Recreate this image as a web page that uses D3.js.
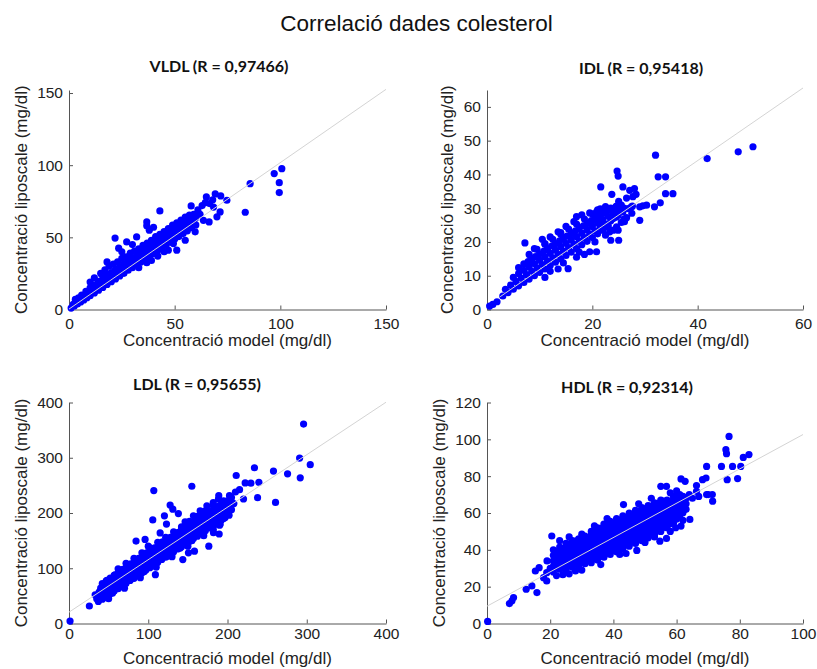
<!DOCTYPE html>
<html>
<head>
<meta charset="utf-8">
<script src="https://cdn.jsdelivr.net/npm/d3@7"></script>
<style>
  body { margin: 0; background: #fff; }
  svg { display: block; }
</style>
</head>
<body>
<svg id="chart" width="817" height="669"></svg>
<script>
// ---- text ----
const chartTitle = "Correlació dades colesterol";
const xAxisLabel = "Concentració model (mg/dl)";
const yAxisLabel = "Concentració liposcale (mg/dl)";
const panelNames = ["VLDL (R = 0,97466)", "IDL (R = 0,95418)", "LDL (R = 0,95655)", "HDL (R = 0,92314)"];

// ---- VLDL: [model, liposcale] ----
const vldlPoints = [
  [1,1],[2.5,2.5],[4,3.8],[5.5,5.2],[7,6.6],[8.5,8.2],[10,9.6],[12,11.5],[14,13.4],[16,15.3],[18,17.4],[20,19.3],
  [22,21.2],[24,23.2],[26,25.1],[28,27.2],[30,29],[32,31],[34,33],[36,34.8],[38,37],[40,38.8],[42,40.8],[44,42.7],
  [46,44.8],[48,46.6],[50,48.8],[52,50.5],[54,52.6],[56,54.5],[58,56.8],[60,58.6],
  [2,3.5],[3.5,5.5],[3,7],[4.5,8],[5,7],[6.5,8.8],[8,10.5],[9.5,12],[11,13.6],[13,15.5],[15,17.6],[17,19.5],[19,21.6],
  [21,23.4],[23,25.6],[25,27.5],[27,29.6],[29,31.4],[31,33.5],[33,35.6],[35,37.4],[37,39.5],[39,41.6],[41,43.4],
  [43,45.5],[45,47.4],[47,49.6],[49,51.5],[51,53.4],[53,55.6],[55,57.5],[57,59.4],[59,61.5],
  [6,10],[8,12.5],[10,15],[12,17],[14,19.5],[16,21.5],[18,23.8],[20,25.6],[22,27.8],[24,29.5],[26,31.8],[28,33.6],
  [30,35.8],[32,37.5],[34,39.8],[36,41.5],[38,43.6],[40,45.8],[42,47.4],[44,49.6],[46,51.5],[48,53.8],[50,55.4],
  [52,57.6],[54,59.4],[56,61.6],[58,63],
  [15,25],[17,27.5],[19,30],[21,31.5],[23,33],[25,35.5],[27,36.5],[29,39],[31,40.5],[33,42],[35,44.5],[37,46],
  [39,48],[41,50.5],[43,52],[45,54],[47,56],[49,58.5],[51,60],[53,62],[55,64],[57,65.5],
  [21.8,49.5],[23.5,42.5],[27.3,46.8],[32,50.3],[36.8,60.7],[36.8,58],[43,68.3],[38,55],[40,57],[30,45],[25,40],
  [18,33],[12,22],[10,19],
  [57.8,71.8],[59,66],[61,69],[63,72],[64.5,74],[65,78],[66.5,73.4],[68,76],[69.2,80.1],[71.8,78.7],[74.7,75.7],
  [71.5,67.6],[68.4,71],[70,64.2],[66.3,60.7],[63.6,61.8],[62,66],[60,63.5],
  [47,41.1],[51,41.1],[55,48],[59.7,53.8],[49.4,45.7],[36.8,32.4],[39,34],[42,37],[33,29],[45,40],
  [100.7,97.6],[97.1,94.2],[99.5,87.9],[99.5,81],[85.7,87.2],[83.4,67.4]
];

// ---- IDL ----
const idlPoints = [
  [0.5,1],[1.1,1.5],[1.9,2.3],
  [3,4],[4,5],[5,6],[6,7],[7,8],[8,9],[9,10],[10,11],[11,12],[12,13],[13,14],[14,15],[15,16],[16,17],[17,18],
  [18,19.2],[19,20.2],[20,21.3],[21,22.4],[22,23.5],[23,24.4],
  [3.5,6],[4.5,7.2],[5.5,8.3],[6.5,9.3],[7.5,10.3],[8.5,11.3],[9.5,12.3],[10.5,13.3],[11.5,14.3],[12.5,15.3],
  [13.5,16.3],[14.5,17.3],[15.5,18.3],[16.5,19.3],[17.5,20.3],[18.5,21.3],[19.5,22.3],[20.5,23.3],[21.5,24.3],
  [22.5,25.3],[23.5,26.3],[24.5,27.3],
  [5,9.5],[6,10.6],[7,11.6],[8,12.6],[9,13.6],[10,14.6],[11,15.6],[12,16.6],[13,17.6],[14,18.6],[15,19.6],
  [16,20.6],[17,21.6],[18,22.6],[19,23.6],[20,24.6],[21,25.6],[22,26.6],[23,27.6],[24,28.6],[25,29.5],
  [7,13.5],[8.5,15],[10,16.5],[11.5,18],[13,19.5],[14.5,21],[16,22.5],[17.5,24],[19,25.5],[20.5,27],[22,28.5],[23.5,30],
  [6,12.4],[7.8,14.2],[9.2,15.7],[10.8,17.3],[12.3,18.8],[13.8,20.3],[15.2,21.7],[16.8,23.3],[18.3,24.8],
  [19.8,26.3],[21.3,27.8],[22.8,29.3],[24.5,30.5],
  [8,16.3],[9.5,17.8],[11,19.3],[12.5,20.8],[14,22.3],[15.5,23.8],[17,25.3],[18.5,26.8],[20,28.3],[21.5,29.8],
  [9,18],[10.5,20.8],[12,21.5],[13.5,23],[15,24.6],[16.5,26],[18,28],[19.5,28.6],[21,29.5],[11,19.5],[14,22.8],
  [17,27.5],[7.2,19.7],[21.6,36.3],[24.7,41],[24.9,39.5],[23.7,34.1],[22.5,30.5],
  [20.8,28.9],[21.7,28.4],[22.7,29.4],[23.6,29.9],[24.6,30.6],[25.5,30.9],[20.8,26.4],[22,25.7],[23,25],
  [23.9,26.9],[24.9,27.9],[25.8,28.9],[26.8,29.9],[27.6,30.6],[29,30.4],[29.6,30.7],[26.1,26],[24.6,24.5],
  [23.3,23],[25,20.5],[23.5,20.5],[24.9,23.5],[27.4,30.4],[30.3,30.9],[29,26.4],
  [25.8,36.3],[27.1,35.3],[28,35.8],[28.3,34.1],[27.7,33.4],[26.5,33],[25,32],[26,30],
  [12,11.3],[14.5,13.8],[17.5,17],[20.5,20],[22.5,22],[24,23.5],[25.5,25.8],[26.5,27.2],[27.5,28.5],[26,26.8],
  [15.4,12.1],[13.5,12],[19.5,17.1],[20.8,17.1],[17,15.5],[11,9.5],[18.5,16.3],
  [32,45.7],[32.5,39.3],[33.9,39.3],[35.3,34.3],[33.9,34.3],[32.9,31.6],[31.8,30.4],[41.8,44.7],[47.7,46.7],[50.5,48.2]
];

// ---- LDL ----
const ldlPoints = [
  [35,45],[40,50],[45,54],[50,59],[55,64],[60,68],[65,73],[70,78],[75,83],[80,88],[85,92],[90,97],[95,102],
  [100,106],[105,111],[110,116],[115,121],[120,125],[125,130],[130,135],[135,140],[140,144],[145,149],[150,154],
  [155,159],[160,163],[165,168],[170,173],[175,178],[180,182],[185,187],[190,192],[195,197],[200,201],[205,206],
  [33,52],[38,57],[43,61],[48,66],[53,71],[58,75],[63,80],[68,85],[73,90],[78,94],[83,99],[88,104],[93,109],
  [98,113],[103,118],[108,123],[113,128],[118,132],[123,137],[128,142],[133,147],[138,151],[143,156],[148,161],
  [153,166],[158,170],[163,175],[168,180],[173,185],[178,189],[183,194],[188,199],[193,204],[198,208],[203,213],[208,217],
  [40,64],[45,69],[50,73],[55,78],[60,83],[65,87],[70,92],[75,97],[80,102],[85,106],[90,111],[95,116],[100,121],
  [105,125],[110,130],[115,135],[120,140],[125,144],[130,149],[135,154],[140,159],[145,163],[150,168],[155,173],
  [160,178],[165,182],[170,187],[175,192],[180,197],[185,201],[190,206],[195,211],[200,215],[205,220],
  [42,72],[47,77],[52,82],[57,87],[62,91],[67,96],[72,101],[77,106],[82,110],[87,115],[92,120],[97,125],[102,129],
  [107,134],[112,139],[117,144],[122,148],[127,153],[132,158],[137,163],[142,167],[147,172],[152,177],[157,182],
  [162,186],[167,191],[172,196],[177,201],[182,205],[187,210],[192,215],[197,220],
  [37,40],[42,44],[47,49],[52,54],[57,59],[62,63],[67,68],[72,73],[77,78],[82,82],[87,87],[92,92],[97,97],
  [102,101],[107,106],[112,111],[117,116],[122,120],[127,125],[132,130],[137,135],[142,139],[147,144],[152,149],
  [157,154],[162,158],[167,163],[172,168],[177,173],[182,177],[187,182],[192,187],[197,192],[202,196],
  [62,99],[72,109],[82,118],[92,128],[102,137],[112,147],[122,156],[132,166],[142,175],[152,185],[162,194],
  [172,204],[182,213],
  [50,45],[70,64],[90,83],[110,102],[130,121],[150,140],[170,159],[190,178],
  [48,78],[58,88],[68,98],[78,108],[88,118],[98,128],[103,132],[108,137],[118,148],[128,156],[138,165],[148,175],
  [158,185],[168,194],[178,203],[188,212],[195,222],
  [45,47],[55,55],[65,67],[80,81],[95,94],[110,108],[125,122],[140,136],[155,150],[170,166],[185,180],[195,190],
  [1.3,4.3],[25.7,31.7],[296,361],[291,299.5],[304.4,287.4],[291.8,263.6],[258,275.8],[275.8,270.9],[234,281.9],
  [260.6,219.2],[237.9,227.7],[220.2,225.3],[229.5,253.9],[222.3,254.5],[239.6,255.7],[211,267.9],[215.2,242.3],
  [202.5,231.4],[189,231.4],[155,248.4],[107,240.5],[105.7,187.5],[127.6,214.3],[131,207],[120.4,194.8],[138,199],
  [176.4,140],[109,88.3],[158.3,130.9],[150.7,127.9],[143.6,115.7],[96,152.2],[84.6,149.2],[189.5,162],[182.3,164.4],
  [210,238],[205,228],[200,222],
  [100,140],[115,164],[123,180],[142,173],[146.5,184],[157,195],[165.5,204],[174,213],[182,219],[188.6,225],
  [140,140],[165,164],[182,170.5],[190.7,179.6],[197,194.8]
];

// ---- HDL ----
const hdlPoints = [
  [21,28],[21,31],[21,34],[21,37],[21,40],
  [23,29.5],[23,32.5],[23,35.5],[23,38.5],[23,41.5],
  [25,29],[25,32],[25,35],[25,38],[25,41],[25,43.5],
  [27,30.5],[27,33.5],[27,36.5],[27,39.5],[27,42.5],[27,45],
  [29,31],[29,34],[29,37],[29,40],[29,43],[29,46],
  [31,32.5],[31,35.5],[31,38.5],[31,41.5],[31,44.5],[31,47.5],
  [33,33],[33,36],[33,39],[33,42],[33,45],[33,48],[33,50],
  [35,34.5],[35,37.5],[35,40.5],[35,43.5],[35,46.5],[35,49.5],[35,52],
  [37,36],[37,39],[37,42],[37,45],[37,48],[37,51],[37,54],
  [39,37.5],[39,40.5],[39,43.5],[39,46.5],[39,49.5],[39,52.5],[39,55.5],
  [41,39],[41,42],[41,45],[41,48],[41,51],[41,54],[41,57],
  [43,40.5],[43,43.5],[43,46.5],[43,49.5],[43,52.5],[43,55.5],[43,58.5],
  [45,42],[45,45],[45,48],[45,51],[45,54],[45,57],[45,60],
  [47,43.5],[47,46.5],[47,49.5],[47,52.5],[47,55.5],[47,58.5],[47,61.5],
  [49,45],[49,48],[49,51],[49,54],[49,57],[49,60],[49,63],
  [51,46.5],[51,49.5],[51,52.5],[51,55.5],[51,58.5],[51,61.5],[51,64],
  [53,48],[53,51],[53,54],[53,57],[53,60],[53,63],[53,65.5],
  [55,50],[55,53],[55,56],[55,59],[55,62],[55,65],[55,67],
  [57,52],[57,55],[57,58],[57,61],[57,64],[57,67],
  [59,54.5],[59,57.5],[59,60.5],[59,63.5],[59,66.5],[59,69],
  [61,58],[61,61],[61,64],[61,67],[61,70],
  [63,62],[63,65],[63,68],
  [22,30.2],[22,33.2],[22,36.2],[22,39.2],
  [24,31.7],[24,34.7],[24,37.7],[24,40.7],
  [26,31.2],[26,34.2],[26,37.2],[26,40.2],[26,43.2],
  [28,32.7],[28,35.7],[28,38.7],[28,41.7],[28,44.7],
  [30,33.2],[30,36.2],[30,39.2],[30,42.2],[30,45.2],
  [32,34.7],[32,37.7],[32,40.7],[32,43.7],[32,46.7],
  [34,35.2],[34,38.2],[34,41.2],[34,44.2],[34,47.2],[34,50.2],
  [36,36.7],[36,39.7],[36,42.7],[36,45.7],[36,48.7],[36,51.7],
  [38,38.2],[38,41.2],[38,44.2],[38,47.2],[38,50.2],[38,53.2],
  [40,39.7],[40,42.7],[40,45.7],[40,48.7],[40,51.7],[40,54.7],
  [42,41.2],[42,44.2],[42,47.2],[42,50.2],[42,53.2],[42,56.2],
  [44,42.7],[44,45.7],[44,48.7],[44,51.7],[44,54.7],[44,57.7],
  [46,44.2],[46,47.2],[46,50.2],[46,53.2],[46,56.2],[46,59.2],
  [48,45.7],[48,48.7],[48,51.7],[48,54.7],[48,57.7],[48,60.7],
  [50,47.2],[50,50.2],[50,53.2],[50,56.2],[50,59.2],[50,62.2],
  [52,48.7],[52,51.7],[52,54.7],[52,57.7],[52,60.7],[52,63.7],
  [54,50.2],[54,53.2],[54,56.2],[54,59.2],[54,62.2],[54,65.2],
  [56,52.2],[56,55.2],[56,58.2],[56,61.2],[56,64.2],[56,66.5],
  [58,54.2],[58,57.2],[58,60.2],[58,63.2],[58,66.2],
  [60,56.7],[60,59.7],[60,62.7],[60,65.7],[60,68.5],
  [62,60.2],[62,63.2],[62,66.2],[62,69],
  [20.5,47.5],[19,34],[20,30],[18.9,27.6],[17.9,24.9],[18.9,23.1],[16.5,30.3],[15.3,28.5],[15.8,16.8],[14.2,20.4],
  [12.4,18.6],[7.1,10.8],[7.9,12.3],[8.4,14.1],[0.2,1.1],[22,26],[24,26.5],[26,27],[28,28.5],[30,29],[23,45],
  [26,47],[30,48.5],[34,53],[38,57],[43.2,64.6],[47.4,39.7],[42,37.5],[36,32],[44,38],[50,44],[54.7,44.7],
  [56.8,46.2],[53,47],[59.7,52],[61.4,52.9],[64.2,56.5],[58,50],[62,56],[55,74.5],[56.8,74.5],[61.4,78.5],
  [62.7,77.2],[58,71],[60,72],[64,70],[66.3,74.9],[65,68],[67,69],[68.2,78.1],[69.3,79],[69.5,85.3],[69.5,70],
  [71.3,70],[71.4,66.4],[74.2,85.3],[75.6,94.4],[75.8,92.2],[76.6,101.6],[76,78.1],[77.7,85.3],[79.3,78.7],
  [80.3,85.3],[81.1,90.2],[82.9,91.7],[52,68],[48,65],[66.3,71.8],[70,70]
];

// ---- least-squares reference lines: intercept, slope, x extent ----
const vldlFit = [0.3, 1.015, 0, 150];
const idlFit  = [1.1, 1.075, 2.5, 60];
const ldlFit  = [20.5, 0.95, 0, 400];
const hdlFit  = [9.4, 0.932, 0, 100];

// ---- tick values ----
const vldlXTicks = [0, 50, 100, 150];
const vldlYTicks = [0, 50, 100, 150];
const idlXTicks = [0, 20, 40, 60];
const idlYTicks = [0, 10, 20, 30, 40, 50, 60];
const ldlXTicks = [0, 100, 200, 300, 400];
const ldlYTicks = [0, 100, 200, 300, 400];
const hdlXTicks = [0, 20, 40, 60, 80, 100];
const hdlYTicks = [0, 20, 40, 60, 80, 100, 120];

// ---- panel layout ----
const panels = [
  { name: panelNames[0], points: vldlPoints, fit: vldlFit, xTicks: vldlXTicks, yTicks: vldlYTicks,
    xDomain: [0, 150], yDomain: [0, 152.1], xRange: [69, 386], yRange: [309.5, 90],
    titleX: 219, titleY: 72, yLabelX: 21, xLabelY: 345.5, xPad: 8 },
  { name: panelNames[1], points: idlPoints, fit: idlFit, xTicks: idlXTicks, yTicks: idlYTicks,
    xDomain: [0, 60], yDomain: [0, 65], xRange: [487, 803], yRange: [309.5, 90],
    titleX: 641, titleY: 73.5, yLabelX: 447.5, xLabelY: 345.5, xPad: 8 },
  { name: panelNames[2], points: ldlPoints, fit: ldlFit, xTicks: ldlXTicks, yTicks: ldlYTicks,
    xDomain: [0, 400], yDomain: [0, 400], xRange: [69, 386], yRange: [623.5, 402.5],
    titleX: 197, titleY: 390, yLabelX: 21, xLabelY: 664, xPad: 4.5 },
  { name: panelNames[3], points: hdlPoints, fit: hdlFit, xTicks: hdlXTicks, yTicks: hdlYTicks,
    xDomain: [0, 100], yDomain: [0, 120], xRange: [487, 803], yRange: [623.5, 402.5],
    titleX: 627, titleY: 393, yLabelX: 439.5, xLabelY: 664, xPad: 4.5 }
];

const svg = d3.select("#chart");
const axisFont = "'Liberation Sans', Arial, sans-serif";

svg.append("text")
  .attr("x", 416.5).attr("y", 31)
  .attr("text-anchor", "middle")
  .style("font-family", axisFont).style("font-size", "22.5px").attr("fill", "#111")
  .text(chartTitle);

panels.forEach(p => {
  const g = svg.append("g");
  const x = d3.scaleLinear().domain(p.xDomain).range(p.xRange);
  const y = d3.scaleLinear().domain(p.yDomain).range(p.yRange);

  // axes (left and bottom only, ticks pointing inward)
  const gx = g.append("g")
    .attr("transform", `translate(0,${p.yRange[0]})`)
    .call(d3.axisBottom(x).tickValues(p.xTicks).tickSize(-4).tickSizeOuter(0).tickPadding(p.xPad));
  const gy = g.append("g")
    .attr("transform", `translate(${p.xRange[0]},0)`)
    .call(d3.axisLeft(y).tickValues(p.yTicks).tickSize(-4).tickSizeOuter(0).tickPadding(6));
  [gx, gy].forEach(a => {
    a.select(".domain").attr("stroke", "#555");
    a.selectAll(".tick line").attr("stroke", "#555");
    a.selectAll(".tick text").attr("fill", "#222")
      .style("font-family", axisFont).style("font-size", "15.5px");
  });

  // data points
  g.append("g").selectAll("circle").data(p.points).join("circle")
    .attr("cx", d => x(d[0]))
    .attr("cy", d => y(d[1]))
    .attr("r", 3.6)
    .attr("fill", "#0000ff");

  // regression line drawn over the points
  const [b0, b1, xa, xb] = p.fit;
  g.append("line")
    .attr("x1", x(xa)).attr("y1", y(b0 + b1 * xa))
    .attr("x2", x(xb)).attr("y2", y(b0 + b1 * xb))
    .attr("stroke", "#d4d4d4").attr("stroke-width", 1);

  // panel title
  g.append("text")
    .attr("x", p.titleX).attr("y", p.titleY)
    .attr("text-anchor", "middle")
    .style("font-family", "Lato, 'Open Sans', sans-serif").style("font-weight", "bold").style("font-size", "16px")
    .attr("fill", "#111")
    .text(p.name);

  // axis labels
  g.append("text")
    .attr("x", (p.xRange[0] + p.xRange[1]) / 2).attr("y", p.xLabelY)
    .attr("text-anchor", "middle")
    .style("font-family", axisFont).style("font-size", "17px").attr("fill", "#222")
    .text(xAxisLabel);
  g.append("text")
    .attr("transform", `translate(${p.yLabelX},${(p.yRange[0] + p.yRange[1]) / 2}) rotate(-90)`)
    .attr("text-anchor", "middle").attr("dy", "0.35em")
    .style("font-family", axisFont).style("font-size", "17px").attr("fill", "#222")
    .text(yAxisLabel);
});
</script>
</body>
</html>
